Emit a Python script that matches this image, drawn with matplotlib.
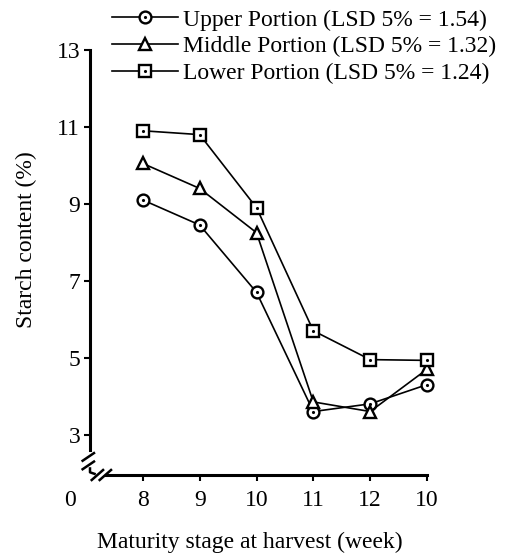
import numpy as np
import matplotlib.pyplot as plt
from matplotlib.lines import Line2D

plt.rcParams['font.family'] = ['Liberation Serif', 'DejaVu Serif']

# ===== data
weeks = ['8', '9', '10', '11', '12', '10']
upper = [9.1, 8.45, 6.7, 3.6, 3.8, 4.3]
middle = [10.05, 9.4, 8.25, 3.85, 3.6, 4.7]
lower = [10.9, 10.8, 8.9, 5.7, 4.95, 4.93]
labels = ['Upper Portion (LSD 5% = 1.54)',
          'Middle Portion (LSD 5% = 1.32)',
          'Lower Portion (LSD 5% = 1.24)']
yticks = [3, 5, 7, 9, 11, 13]

x = np.arange(len(weeks))
fs = 17

fig = plt.figure(figsize=(5.11, 5.57), dpi=100)
ax = fig.add_axes([90 / 511, 1 - 475 / 557, 337 / 511, 425 / 557])

lw = 1.2
handles = []
for vals, mk, ms in [(upper, 'o', 8.5), (middle, '^', 9), (lower, 's', 8)]:
    ln, = ax.plot(x, vals, color='black', lw=lw, marker=mk, ms=ms,
                  mfc='white', mec='black', mew=1.7, clip_on=False, zorder=3)
    if mk != '^':
        dot, = ax.plot(x, vals, ls='none', marker='.', ms=2.5, color='black',
                       clip_on=False, zorder=4)
        handles.append((ln, dot))
    else:
        handles.append(ln)

ax.set_xlim(-0.93, 5.0)
ax.set_ylim(1.95, 13)
ax.set_xticks(x)
ax.set_xticklabels(weeks)
ax.set_yticks(yticks)
ax.tick_params(labelsize=fs, direction='out', length=4, width=1.5, pad=3)
ax.tick_params(axis='x', pad=7)

# axes with break
for s in ['top', 'right']:
    ax.spines[s].set_visible(False)
ax.spines['left'].set_linewidth(2.2)
ax.spines['bottom'].set_linewidth(2.2)
ax.spines['left'].set_bounds(2.6, 13)
ax.spines['bottom'].set_bounds(-0.65, 5.0)

kw = dict(color='black', lw=1.8, clip_on=False, transform=ax.transData)
# y axis slashes
for yy in [2.42, 2.2]:
    ax.add_line(Line2D([-1.06, -0.86], [yy - 0.1, yy + 0.1], **kw))
ax.add_line(Line2D([-0.93, -0.93, -0.85], [2.12, 2.02, 1.98], **kw))
# x axis slashes
for xx in [-0.8, -0.66]:
    ax.add_line(Line2D([xx - 0.1, xx + 0.1], [1.82, 2.08], **kw))

ax.text(-1.28, 1.55, '0', fontsize=fs, ha='center', va='top')

ax.set_ylabel('Starch content (%)', fontsize=fs)
ax.yaxis.set_label_coords(-0.158, 0.553)
ax.set_xlabel('Maturity stage at harvest (week)', fontsize=fs)
ax.xaxis.set_label_coords(0.475, -0.133)

fig.legend(handles, labels, loc='upper left', bbox_to_anchor=(100 / 511, 1.005),
           frameon=False, fontsize=fs, handlelength=2.8, handletextpad=0.2,
           labelspacing=0.22, borderaxespad=0.1)

fig.savefig('out.png', dpi=100)
